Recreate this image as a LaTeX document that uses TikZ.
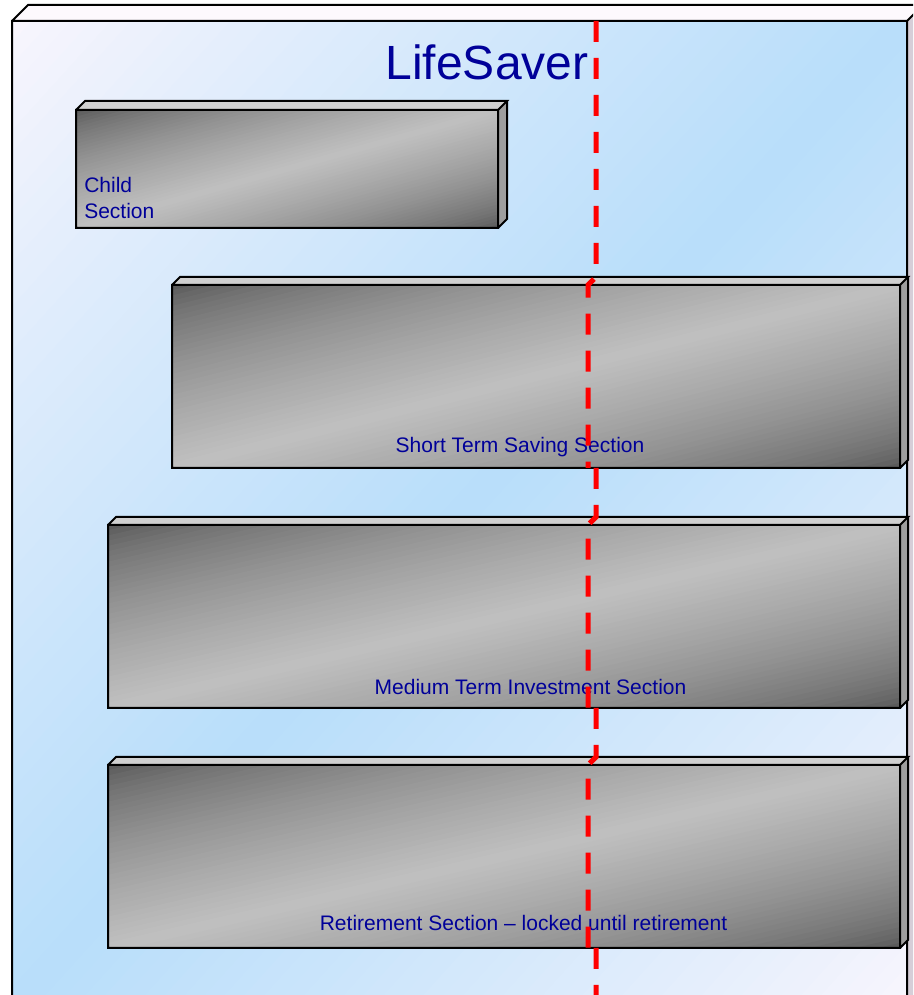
\documentclass[tikz,border=0pt]{standalone}
\usepackage{fontspec}
\setmainfont{Liberation Sans}

% palette
\definecolor{lav}{RGB}{250,246,253}
\definecolor{sky}{RGB}{184,222,250}
\definecolor{frametop}{RGB}{253,249,253}
\definecolor{frameside}{RGB}{214,206,216}
\definecolor{boxdark}{RGB}{84,84,84}
\definecolor{boxlight}{RGB}{192,192,192}
\definecolor{boxtop}{RGB}{208,208,208}
\definecolor{boxside}{RGB}{158,158,158}
\definecolor{labelblue}{RGB}{0,0,153}
\definecolor{guide}{RGB}{255,0,0}

% diagonal gradient over rectangle (#1,#2)-(#3,#4): colour #5 in the
% top-left and bottom-right corners, colour #6 along the other diagonal;
% built from #7 flat bands, #8 shapes the ramp (1 = linear)
\newcommand\gradrect[8]{%
  \begin{scope}[shift={(#1,#2)}, xscale=#3-#1, yscale=#4-#2]
    \clip (0,0) rectangle (1,1);
    \foreach \k in {1,...,#7}{
      \pgfmathsetmacro\ca{2*(\k-1)/#7-1}
      \pgfmathsetmacro\cb{2*(\k+0.6)/#7-1}
      \pgfmathsetmacro\mixp{100*(1-abs(2*(\k-0.5)/#7-1))^#8}
      \fill[#6!\mixp!#5] (\ca-1,-1) -- (\ca+2,2) -- (\cb+2,2) -- (\cb-1,-1) -- cycle;
    }
  \end{scope}}

% a bevelled slab: front face x #1..#3, top edge #2, bottom edge #4, depth #5
\newcommand\slabbox[5]{%
  \fill[boxtop] (#1,#2) -- (#1+#5,#2+#5) -- (#3+#5,#2+#5) -- (#3,#2) -- cycle;
  \fill[boxside] (#3,#2) -- (#3+#5,#2+#5) -- (#3+#5,#4+#5) -- (#3,#4) -- cycle;
  \gradrect{#1}{#4}{#3}{#2}{boxdark}{boxlight}{70}{0.65}
  \draw[edge] (#1,#4) rectangle (#3,#2)
    (#1,#2) -- (#1+#5,#2+#5) -- (#3+#5,#2+#5) -- (#3,#2)
    (#3+#5,#2+#5) -- (#3+#5,#4+#5) -- (#3,#4);
}

\begin{document}
\begin{tikzpicture}[x=0.75pt,y=0.75pt,
  edge/.style={draw=black,line width=1.5pt,line join=miter},
  label/.style={text=labelblue,font=\fontsize{15.75}{19.5}\selectfont,inner sep=0pt},
  guideline/.style={draw=guide,line width=3.75pt,dash pattern=on 15.75pt off 12pt}]

\useasboundingbox (0,0) rectangle (913,995);
\clip (0,0) rectangle (913,995);

% outer frame
\fill[frametop] (12,974) -- (28,990) -- (930,990) -- (907,974) -- cycle;
\fill[frameside] (907,974) -- (923,990) -- (923,-15) -- (907,-15) -- cycle;
\gradrect{12}{-15}{907}{974}{lav}{sky}{90}{0.85}
\draw[edge] (12,-15) -- (12,974) -- (907,974) -- (907,-15)
  (12,974) -- (28,990) -- (930,990)
  (907,974) -- (923,990) -- (923,-15);

\node[label,font=\fontsize{36}{43}\selectfont,anchor=base] (title) at (487,915) {LifeSaver};

% sections
\slabbox{76}{885}{498}{767}{9}
\slabbox{172}{710}{900}{527}{8}
\slabbox{108}{470}{900}{287}{8}
\slabbox{108}{230}{900}{47}{8}

\node[label,anchor=base west,align=left] (child) at (84,776) {Child\\Section};
\node[label,anchor=base] (short) at (520,542) {Short Term Saving Section};
\node[label,anchor=base] (medium) at (530.5,300) {Medium Term Investment Section};
\node[label,anchor=base] (retire) at (523.5,64) {Retirement Section -- locked until retirement};

% dashed guide line
\draw[guideline] (596,974) -- (596,718) -- (588,710) -- (588,527)
  (596,527) -- (596,478) -- (588,470) -- (588,287)
  (596,287) -- (596,238) -- (588,230) -- (588,47)
  (596,47) -- (596,-5);
\end{tikzpicture}
\end{document}
